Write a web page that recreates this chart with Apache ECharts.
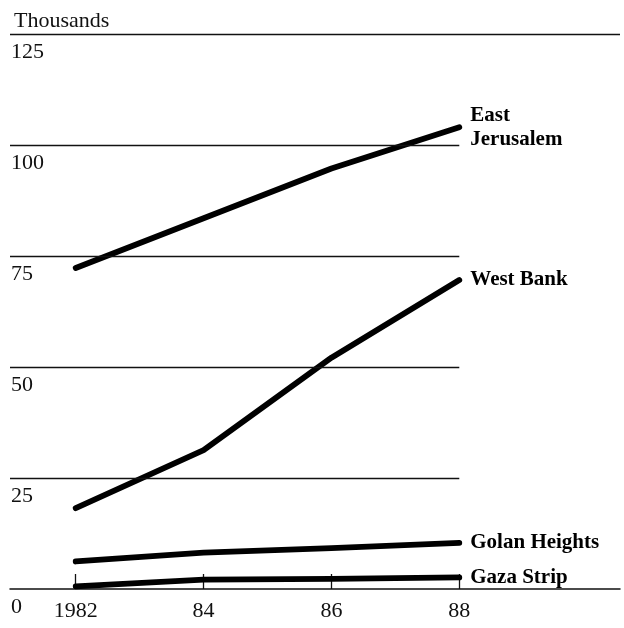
<!DOCTYPE html>
<html>
<head>
<meta charset="utf-8">
<script src="https://cdn.jsdelivr.net/npm/echarts@6/dist/echarts.min.js"></script>
<style>html,body{margin:0;padding:0;background:#fff;}#c{width:624px;height:628px;}</style>
</head>
<body>
<div id="c"></div>
<script>
const years = [1982, 1984, 1986, 1988];
const xTickLabels = ['1982', '84', '86', '88'];
const yTicks = [0, 25, 50, 75, 100, 125];
const eastJerusalem = [72.3, 83.5, 94.7, 104.0];
const westBank = [18.2, 31.3, 52.1, 69.6];
const golanHeights = [6.2, 8.2, 9.2, 10.4];
const gazaStrip = [0.6, 2.1, 2.3, 2.6];
const seriesNames = ['East\nJerusalem', 'West Bank', 'Golan Heights', 'Gaza Strip'];
const seriesValues = [eastJerusalem, westBank, golanHeights, gazaStrip];

const XMIN = 1980.972, XMAX = 1990.514;
const FONT = '"Liberation Serif", "DejaVu Serif", serif';

const gridLines = yTicks.filter(v => v > 0 && v < 125).map(v => [
  {coord: [XMIN, v]}, {coord: [years[years.length - 1], v]}
]);
gridLines.push([{coord: [XMIN, 125]}, {coord: [XMAX, 125]}]);

const series = seriesValues.map((vals, i) => ({
  type: 'line',
  name: seriesNames[i],
  data: years.map((y, j) => [y, vals[j]]),
  symbol: 'none',
  z: 3,
  lineStyle: {color: '#000', width: 5.8, cap: 'round', join: 'round'},
  endLabel: {
    show: true,
    formatter: () => seriesNames[i],
    color: '#000',
    fontFamily: FONT,
    fontWeight: 'bold',
    fontSize: 21,
    lineHeight: 24,
    align: 'left',
    verticalAlign: 'middle',
    distance: 11
  }
}));
series.push({
  type: 'line',
  name: 'grid',
  data: [],
  z: 1,
  markLine: {
    silent: true,
    symbol: 'none',
    label: {show: false},
    lineStyle: {color: '#111', width: 1.3, type: 'solid'},
    data: gridLines
  }
});

const chart = echarts.init(document.getElementById('c'));
chart.setOption({
  animation: false,
  backgroundColor: '#fff',
  title: {
    text: 'Thousands', left: 9, top: 5,
    textStyle: {fontFamily: FONT, fontSize: 22, fontWeight: 'normal', color: '#111'}
  },
  grid: {left: 10, right: 4, top: 34, bottom: 39, outerBoundsMode: 'none'},
  xAxis: {
    type: 'value', min: XMIN, max: XMAX,
    axisLine: {show: true, onZero: false, lineStyle: {color: '#111', width: 1.5}},
    axisTick: {show: true, inside: true, length: 15, customValues: years, lineStyle: {color: '#111', width: 1.3}},
    axisLabel: {
      customValues: years,
      formatter: v => xTickLabels[years.indexOf(Math.round(v))] || '',
      margin: 11, color: '#111', fontFamily: FONT, fontSize: 22
    },
    splitLine: {show: false}
  },
  yAxis: {
    type: 'value', min: 0, max: 125, interval: 25,
    axisLine: {show: false}, axisTick: {show: false}, splitLine: {show: false},
    axisLabel: {
      inside: true, align: 'left', verticalAlign: 'top', margin: 1,
      padding: [7, 0, 0, 0],
      color: '#111', fontFamily: FONT, fontSize: 22
    }
  },
  series: series
});
</script>
</body>
</html>
